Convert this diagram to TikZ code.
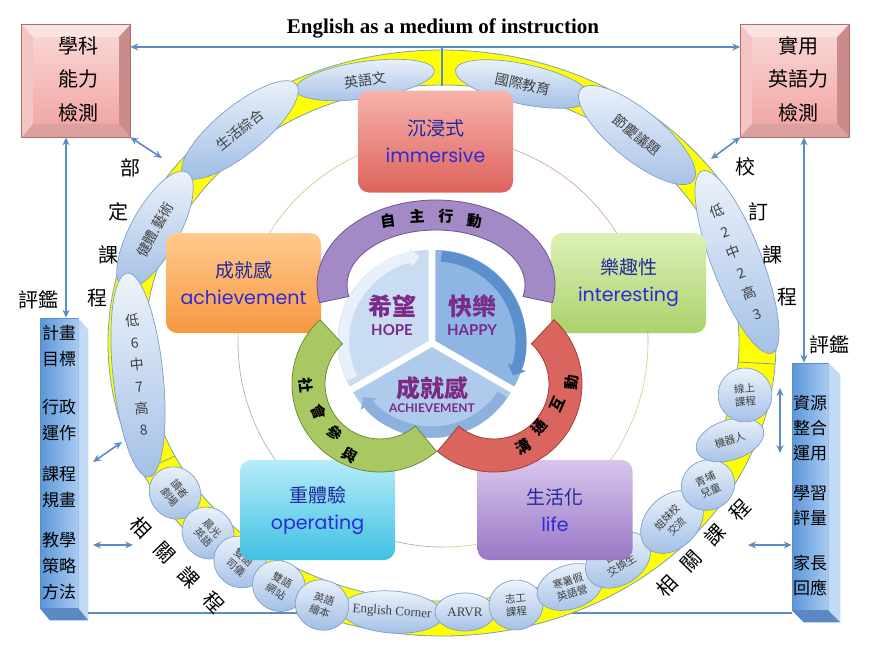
\documentclass[tikz,border=0pt]{standalone}
\usepackage{fontspec}
\setmainfont{Liberation Serif}
\newfontfamily\cjk{Noto Sans CJK TC}
\newfontfamily\geo{Poppins}
\newfontfamily\gill{Lato}
\usetikzlibrary{shapes.geometric, arrows.meta, calc}
\newcommand{\fsz}[1]{\fontsize{#1}{#1}\selectfont}

\definecolor{linkblue}{HTML}{5B8CC3}
\definecolor{ringyellow}{HTML}{FFFF00}
\definecolor{ringedge}{HTML}{7B9CC6}
\definecolor{ovaltop}{HTML}{EEF4FB}
\definecolor{ovalbot}{HTML}{A3C0E6}
\definecolor{ovaledge}{HTML}{7F9FCB}
\definecolor{ovaltext}{HTML}{404040}
\definecolor{pinkhi}{HTML}{F9D4D2}
\definecolor{pinklo}{HTML}{F1A8A5}
\definecolor{pinktop}{HTML}{FBE3E2}
\definecolor{pinkleft}{HTML}{F4C4C2}
\definecolor{pinkright}{HTML}{C98C8A}
\definecolor{pinkbottom}{HTML}{DCA09E}
\definecolor{pinkedge}{HTML}{B46C69}
\definecolor{barleft}{HTML}{5B96D8}
\definecolor{barright}{HTML}{A8CBF2}
\definecolor{barside}{HTML}{C2DAF5}
\definecolor{barfoot}{HTML}{5A88C2}
\definecolor{baredge}{HTML}{5E8CC6}
\definecolor{tiletext}{HTML}{1F2A9C}
\definecolor{tileen}{HTML}{2B2BD8}
\definecolor{immtop}{HTML}{F7B3AD}
\definecolor{immbot}{HTML}{DE625C}
\definecolor{achtop}{HTML}{FFCB8F}
\definecolor{achbot}{HTML}{F7973F}
\definecolor{inttop}{HTML}{DDF0B7}
\definecolor{intbot}{HTML}{AAD26B}
\definecolor{opetop}{HTML}{B6ECF9}
\definecolor{opebot}{HTML}{3FC1E3}
\definecolor{liftop}{HTML}{D8C6ED}
\definecolor{lifbot}{HTML}{9976C5}
\definecolor{arcpurple}{HTML}{A38AC6}
\definecolor{arcpurpledk}{HTML}{6E5496}
\definecolor{arcgreen}{HTML}{A9C763}
\definecolor{arcgreendk}{HTML}{6E8C35}
\definecolor{arcred}{HTML}{D9655E}
\definecolor{arcreddk}{HTML}{A33D36}
\definecolor{hopefill}{HTML}{CADCF1}
\definecolor{hoperim}{HTML}{E8F0FA}
\definecolor{happyfill}{HTML}{8FB5E3}
\definecolor{happyrim}{HTML}{5C90CC}
\definecolor{achfill}{HTML}{AFCBEC}
\definecolor{achrim}{HTML}{8CB1DD}
\definecolor{piepurple}{HTML}{7B2B85}
\definecolor{guidetan}{HTML}{D8C497}
\definecolor{guiderose}{HTML}{D7A4A2}
\definecolor{guidekhaki}{HTML}{D5D09C}
\definecolor{guideblue}{HTML}{9DB5C6}

\begin{document}
\begin{tikzpicture}[x=1pt, y=-1pt,
  linkline/.style={linkblue, line width=1.6pt},
  biarrow/.style={linkline, {Stealth[length=8pt,width=7pt]}-{Stealth[length=8pt,width=7pt]}},
  oval/.style={ellipse, draw=ovaledge, line width=0.7pt, top color=ovaltop, bottom color=ovalbot, inner sep=0pt, text=ovaltext, align=center, font=\cjk\fontsize{14}{16}\selectfont},
  bead/.style={oval, minimum width=54pt, minimum height=50pt},
  beadtext/.style={text=ovaltext, align=center, inner sep=0pt, font=\cjk\fontsize{10.5}{13}\selectfont},
  stackoval/.style={oval, font=\cjk\fontsize{14}{22}\selectfont, minimum width=50pt},
  tile/.style={rounded corners=11pt, minimum width=155pt, minimum height=100pt, align=center, text=tiletext, font=\fontsize{19}{27}\selectfont},
  bevel/.style={draw=pinkedge, line width=0.6pt, fill=pinkhi, minimum width=108pt, minimum height=112pt},
  bartower/.style={draw=baredge, line width=0.5pt, left color=barleft, right color=barright, inner sep=0pt},
  barlabel/.style={font=\cjk\fontsize{17}{26}\selectfont, align=center},
  sidechar/.style={font=\cjk\fsz{20}},
  arcchar/.style={font=\cjk\bfseries\fsz{15}},
  pieword/.style={text=piepurple, font=\cjk\bfseries\fsz{24}},
  piesub/.style={text=piepurple, font=\gill\bfseries\fsz{15}}
]
\useasboundingbox (0,0) rectangle (889,646);

% thin guide circle behind the tiles
\coordinate (mid) at (443,342);
\draw[guidetan, line width=0.7pt] ($(mid)+(-180:205)$) arc[start angle=-180, end angle=-90, radius=205];
\draw[guiderose, line width=0.7pt] ($(mid)+(-90:205)$) arc[start angle=-90, end angle=0, radius=205];
\draw[guidekhaki, line width=0.7pt] ($(mid)+(0:205)$) arc[start angle=0, end angle=90, radius=205];
\draw[guideblue, line width=0.7pt] ($(mid)+(90:205)$) arc[start angle=90, end angle=180, radius=205];

% side towers
\node[bartower, minimum width=38pt, minimum height=290pt] (lbar) at (59,463) {};
\fill[barside] (lbar.north east) -- ++(10,12) -- ($(lbar.south east)+(10,12)$) -- (lbar.south east) -- cycle;
\fill[barfoot] (lbar.south west) -- (lbar.south east) -- ++(10,12) -- ($(lbar.south west)+(10,12)$) -- cycle;
\node[bartower, minimum width=36pt, minimum height=247pt] (rbar) at (810,486.5) {};
\fill[barside] (rbar.north east) -- ++(12,12) -- ($(rbar.south east)+(12,12)$) -- (rbar.south east) -- cycle;
\fill[barfoot] (rbar.south west) -- (rbar.south east) -- ++(12,12) -- ($(rbar.south west)+(12,12)$) -- cycle;

\node[barlabel] (lplan) at (59,346) {計畫\\目標};
\node[barlabel] (ladmin) at (59,420) {行政\\運作};
\node[barlabel] (lcourse) at (59,487) {課程\\規畫};
\node[barlabel] (lteach) at (59,566) {教學\\策略\\方法};
\node[barlabel, font=\cjk\fontsize{17}{25}\selectfont] (rres) at (810,428) {資源\\整合\\運用};
\node[barlabel, font=\cjk\fontsize{17}{25}\selectfont] (reval) at (810,505.5) {學習\\評量};
\node[barlabel, font=\cjk\fontsize{17}{25}\selectfont] (rparent) at (810,575) {家長\\回應};

\coordinate (lbot) at (88,613);
\draw[linkline] (lbot) -- (rbar.west |- lbot);

% yellow ring
\coordinate (ring) at (442,343);
\fill[ringyellow, even odd rule] (ring) ellipse[x radius=334, y radius=293] (ring) ellipse[x radius=297, y radius=258];
\draw[ringedge, line width=0.8pt] (ring) ellipse[x radius=334, y radius=293];
\draw[ringedge, line width=0.8pt] (ring) ellipse[x radius=297, y radius=258];
\draw[ringedge, line width=0.8pt] (175,456) -- (142,471);
\draw[ringedge, line width=0.8pt] (738,362) -- (775,364);
\coordinate (topmid) at (442,47);
\coordinate (ringtop) at (442,86);
\draw[linkline] (topmid) -- (ringtop);

% ovals on the ring
\node[oval, minimum width=140pt, minimum height=37pt, rotate=8] (yingyu) at (365,80) {英語文};
\node[oval, minimum width=138pt, minimum height=40pt, rotate=-12] (guoji) at (523,84) {國際教育};
\node[oval, minimum width=145pt, minimum height=50pt, rotate=-39] (jieqing) at (637,135) {節慶議題};
\node[oval, minimum width=145pt, minimum height=48pt, rotate=39] (shenghuo) at (240,130) {生活綜合};
\node[oval, minimum width=132pt, minimum height=48pt, rotate=61] (jianti) at (155,230) {健體.藝術};
\node[stackoval, minimum height=205pt, rotate=6] (bu678) at (138,375) {低\\6\\中\\7\\高\\8};
\node[stackoval, minimum height=195pt, rotate=21] (xiao223) at (737,262) {低\\2\\中\\2\\高\\3};

% beads of the related courses: shapes first, words after
\node[oval, minimum width=102pt, minimum height=42pt, rotate=-4] (corner) at (392,612) {};
\node[oval, minimum width=60pt, minimum height=38pt] (arvr) at (465,612) {};
\node[bead, rotate=5] (zhigong) at (516,605) {};
\node[bead, minimum width=68pt, minimum height=44pt, rotate=18] (hanshu) at (570,587) {};
\node[bead, minimum width=70pt, minimum height=50pt, rotate=32] (jiaohuan) at (618,560) {};
\node[bead, minimum width=72pt, minimum height=52pt, rotate=45] (jiemei) at (672,522) {};
\node[bead, rotate=25] (qingpu) at (708,485) {};
\node[bead, minimum width=70pt, minimum height=40pt, rotate=18] (jiqiren) at (730,440) {};
\node[bead, minimum width=54pt, minimum height=54pt, rotate=5] (xianshang) at (745,395) {};
\node[bead, rotate=-50] (duzhe) at (175,493) {};
\node[bead, rotate=-45] (chenguang) at (208,533) {};
\node[bead, rotate=-40] (siyi) at (240,562) {};
\node[bead, rotate=-30] (wangzhan) at (279,586) {};
\node[bead, rotate=-20] (huiben) at (322,605) {};

\node[beadtext, font=\rmfamily\fsz{13}, rotate=-4] (cornertxt) at (corner) {English Corner};
\node[beadtext, font=\rmfamily\fsz{13}] (arvrtxt) at (arvr) {ARVR};
\node[beadtext, rotate=5] (zhigongtxt) at (zhigong) {志工\\課程};
\node[beadtext, rotate=18] (hanshutxt) at (hanshu) {寒暑假\\英語營};
\node[beadtext, rotate=32] (jiaohuantxt) at (jiaohuan) {國際\\交換生};
\node[beadtext, rotate=45] (jiemeitxt) at (jiemei) {姐妹校\\交流};
\node[beadtext, rotate=25] (qingputxt) at (qingpu) {青埔\\兒童};
\node[beadtext, rotate=18] (jiqirentxt) at (jiqiren) {機器人};
\node[beadtext, rotate=5] (xianshangtxt) at (xianshang) {線上\\課程};
\node[beadtext, rotate=-50] (duzhetxt) at (duzhe) {讀者\\劇場};
\node[beadtext, rotate=-45] (chenguangtxt) at (chenguang) {晨光\\英語};
\node[beadtext, rotate=-40] (siyitxt) at (siyi) {雙語\\司儀};
\node[beadtext, rotate=-30] (wangzhantxt) at (wangzhan) {雙語\\網站};
\node[beadtext, rotate=-20] (huibentxt) at (huiben) {英語\\繪本};

% five tiles
\node[tile, minimum height=102pt, top color=immtop, bottom color=immbot] (immersive) at (435.5,141.5) {{\cjk 沉浸式}\\{\color{tileen}\geo immersive}};
\node[tile, top color=achtop, bottom color=achbot] (achieve) at (243.5,283) {{\cjk 成就感}\\{\color{tileen}\geo achievement}};
\node[tile, top color=inttop, bottom color=intbot] (interest) at (628.5,283) {{\cjk 樂趣性}\\{\color{tileen}\geo interesting}};
\node[tile, top color=opetop, bottom color=opebot] (operate) at (317.5,510) {{\cjk 重體驗}\\{\color{tileen}\geo operating}};
\node[tile, top color=liftop, bottom color=lifbot] (life) at (555,510) {{\cjk 生活化}\\{\color{tileen}\geo life}};

% centre cycle
\coordinate (hub) at (432,343);
\fill[hopefill] ($(hub)+(-150:4)$) coordinate (hopeo) -- ++(-90:91) arc[start angle=-90, end angle=-210, radius=91] -- cycle;
\fill[happyfill] ($(hub)+(-30:4)$) coordinate (happyo) -- ++(30:91) arc[start angle=30, end angle=-90, radius=91] -- cycle;
\fill[achfill] ($(hub)+(90:4)$) coordinate (acho) -- ++(150:91) arc[start angle=150, end angle=30, radius=91] -- cycle;
\draw[hoperim, line width=11pt, -{Triangle[length=9pt,width=19pt]}] ($(hopeo)+(-206:85)$) arc[start angle=-206, end angle=-96, radius=85];
\draw[happyrim, line width=11pt, -{Triangle[length=9pt,width=19pt]}] ($(happyo)+(-86:85)$) arc[start angle=-86, end angle=24, radius=85];
\draw[achrim, line width=11pt, -{Triangle[length=9pt,width=19pt]}] ($(acho)+(34:85)$) arc[start angle=34, end angle=144, radius=85];
\node[pieword] (hopecn) at (392,306) {希望};
\node[piesub] (hopeen) at (392,330) {HOPE};
\node[pieword] (happycn) at (472,306) {快樂};
\node[piesub] (happyen) at (472,330) {HAPPY};
\node[pieword] (achcn) at (432,388) {成就感};
\node[piesub, font=\gill\bfseries\fsz{12}] (achen) at (432,408) {ACHIEVEMENT};

% three bands round the cycle
\coordinate (pc) at (436,285);
\coordinate (gc) at (380,384);
\coordinate (rc) at (494,384);
\filldraw[fill=arcgreen, draw=arcgreendk, line width=0.8pt] ($(gc)+(-133:88)$) arc[start angle=-133, end angle=-310, radius=88] -- ++(-310:-33) arc[start angle=-310, end angle=-133, radius=55] -- cycle;
\filldraw[fill=arcred, draw=arcreddk, line width=0.8pt] ($(rc)+(130:88)$) arc[start angle=130, end angle=-47, radius=88] -- ++(-47:-33) arc[start angle=-47, end angle=130, radius=55] -- cycle;
\filldraw[fill=arcpurple, draw=arcpurpledk, line width=0.8pt] ($(pc)+({119*cos(12)},{85*sin(12)})$) arc[start angle=12, end angle=-192, x radius=119, y radius=85] -- ($(pc)+({89*cos(-192)},{55*sin(-192)})$) arc[start angle=-192, end angle=12, x radius=89, y radius=55] -- cycle;

\node[arcchar, rotate=8] (zi) at (388,221) {自};
\node[arcchar, rotate=3] (zhu) at (417,216) {主};
\node[arcchar, rotate=-3] (xing) at (446,216) {行};
\node[arcchar, rotate=-8] (dong) at (475,221) {動};
\node[arcchar, rotate=-84] (she) at (306,385) {社};
\node[arcchar, rotate=-66] (hui) at (319,412) {會};
\node[arcchar, rotate=-48] (can) at (335,433) {參};
\node[arcchar, rotate=-30] (yu) at (350,455) {與};
\node[arcchar, rotate=30] (gou) at (523,447) {溝};
\node[arcchar, rotate=48] (tong) at (539,427) {通};
\node[arcchar, rotate=66] (hu) at (557,404) {互};
\node[arcchar, rotate=84] (dong2) at (572,382) {動};

% test boxes at the top
\node[bevel] (tlbox) at (76,81) {};
\node[bevel] (trbox) at (794.5,81) {};
\foreach \bx in {tlbox, trbox} {
  \fill[pinktop] (\bx.north west) -- (\bx.north east) -- ($(\bx.north east)+(-12,13)$) -- ($(\bx.north west)+(12,13)$) -- cycle;
  \fill[pinkleft] (\bx.north west) -- ($(\bx.north west)+(12,13)$) -- ($(\bx.south west)+(12,-14)$) -- (\bx.south west) -- cycle;
  \fill[pinkright] (\bx.north east) -- ($(\bx.north east)+(-12,13)$) -- ($(\bx.south east)+(-12,-14)$) -- (\bx.south east) -- cycle;
  \fill[pinkbottom] (\bx.south west) -- ($(\bx.south west)+(12,-14)$) -- ($(\bx.south east)+(-12,-14)$) -- (\bx.south east) -- cycle;
  \shade[top color=pinkhi, bottom color=pinklo] ($(\bx.north west)+(12,13)$) rectangle ($(\bx.south east)+(-12,-14)$);
  \draw[pinkedge, line width=0.6pt] (\bx.north west) rectangle (\bx.south east);
}
\node[font=\cjk\fontsize{20}{33.5}\selectfont, align=center] (tltext) at (78,79) {學科\\能力\\檢測};
\node[font=\cjk\fontsize{20}{33.5}\selectfont, align=center] (trtext) at (798,79) {實用\\英語力\\檢測};

\node[font=\bfseries\fsz{21}] (title) at (443,28) {English as a medium of instruction};

% arrows
\draw[biarrow] (tlbox.east |- topmid) -- (trbox.west |- topmid);
\coordinate (lcol) at (66,0);
\coordinate (rcol) at (804,0);
\draw[biarrow] (tlbox.south -| lcol) -- (lbar.north -| lcol);
\draw[biarrow] (trbox.south -| rcol) -- (rbar.north -| rcol);
\coordinate (budot) at (162,158);
\coordinate (xiaodot) at (711,159);
\draw[biarrow] (tlbox.south east) -- (budot);
\draw[biarrow] (trbox.south west) -- (xiaodot);
\coordinate (curfrom) at (93,462);
\coordinate (curto) at (122,442);
\draw[biarrow] (curfrom) -- (curto);
\coordinate (teachfrom) at (93,545);
\coordinate (teachto) at (133,545);
\draw[biarrow] (teachfrom) -- (teachto);
\coordinate (resfrom) at (780,388);
\coordinate (resto) at (780,453);
\draw[biarrow] (resfrom) -- (resto);
\coordinate (parfrom) at (748,545);
\draw[biarrow] (parfrom) -- (rbar.west |- parfrom);

% labels round the ring
\node[font=\cjk\fsz{20}] (leftjudge) at (38,300) {評鑑};
\node[font=\cjk\fsz{20}] (rightjudge) at (829,345) {評鑑};
\node[sidechar] (bu) at (130,168) {部};
\node[sidechar] (ding) at (118,212) {定};
\node[sidechar] (buke) at (108,255) {課};
\node[sidechar] (bucheng) at (97,298) {程};
\node[sidechar] (xiao) at (745,167) {校};
\node[sidechar] (ding2) at (758,212) {訂};
\node[sidechar] (xiaoke) at (772,255) {課};
\node[sidechar] (xiaocheng) at (787,297) {程};
\node[sidechar, rotate=-46] (relleft) at (177,565) {相\hspace{15pt}關\hspace{15pt}課\hspace{15pt}程};
\node[sidechar, rotate=46] (relright) at (703,548) {相\hspace{15pt}關\hspace{15pt}課\hspace{15pt}程};
\end{tikzpicture}
\end{document}
